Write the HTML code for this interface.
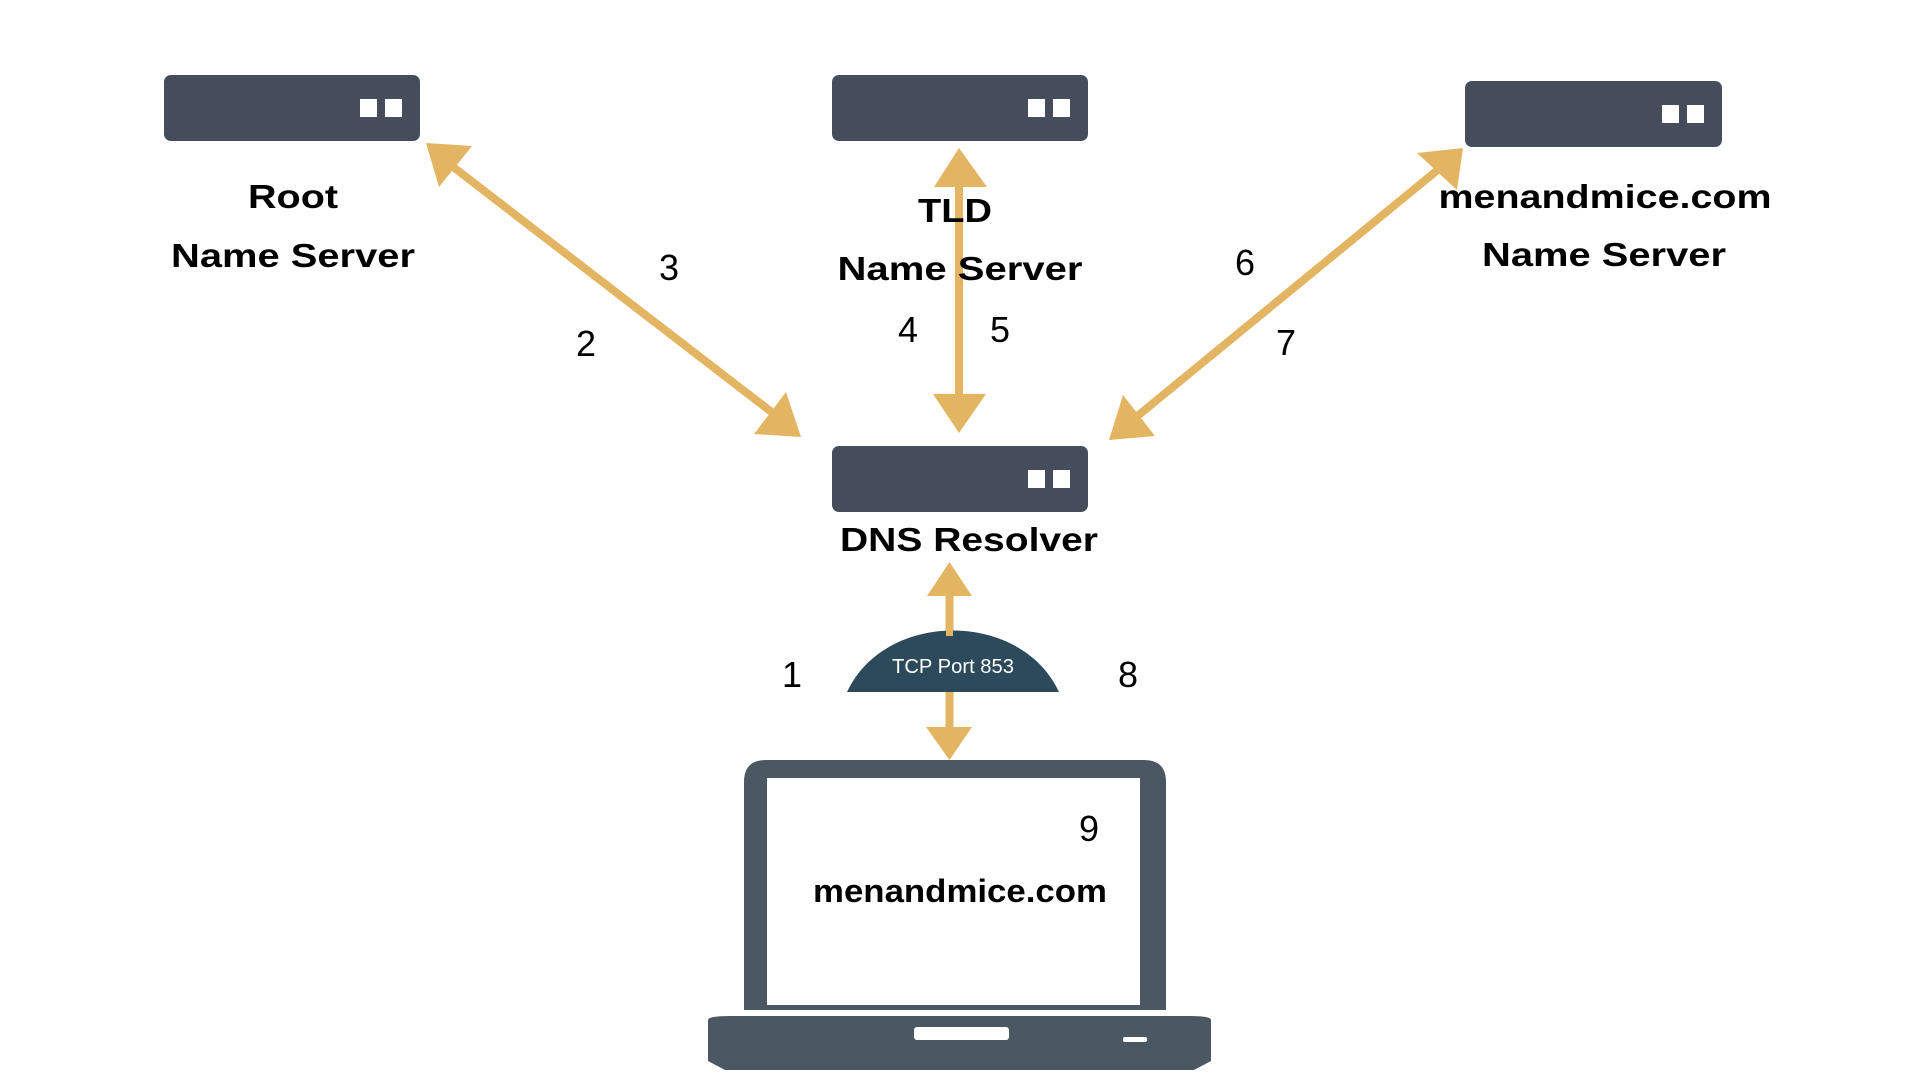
<!DOCTYPE html>
<html><head><meta charset="utf-8"><style>
html,body{margin:0;padding:0;background:#fff;}
svg{display:block;}
text{font-family:"Liberation Sans",sans-serif;}
</style></head><body>
<svg width="1920" height="1080" viewBox="0 0 1920 1080" xmlns="http://www.w3.org/2000/svg">
<rect width="1920" height="1080" fill="#fff"/>
<!-- servers -->
<g fill="#454c5c">
<rect x="164" y="75" width="256" height="66" rx="7"/>
<rect x="832" y="75" width="256" height="66" rx="7"/>
<rect x="1465" y="81" width="257" height="66" rx="7"/>
<rect x="832" y="446" width="256" height="66" rx="7"/>
</g>
<g fill="#fff">
<rect x="360" y="99" width="17" height="18"/><rect x="385" y="99" width="17" height="18"/>
<rect x="1028" y="99" width="17" height="18"/><rect x="1053" y="99" width="17" height="18"/>
<rect x="1662" y="105" width="17" height="18"/><rect x="1687" y="105" width="17" height="18"/>
<rect x="1028" y="470" width="17" height="18"/><rect x="1053" y="470" width="17" height="18"/>
</g>
<!-- arrows -->
<g stroke="#e3b562" stroke-width="8" fill="none">
<line x1="448" y1="163" x2="778" y2="417"/>
<line x1="959" y1="180" x2="959" y2="400"/>
<line x1="1440" y1="168" x2="1135" y2="418"/>
<line x1="949.5" y1="590" x2="949.5" y2="732"/>
</g>
<g fill="#e3b562">
<polygon points="426,143 472,146 439,187"/>
<polygon points="801,437 754,434 786,392"/>
<polygon points="959,148 934,187 987,187"/>
<polygon points="959,433 933,394 986,394"/>
<polygon points="1463,148 1417,153 1457,190"/>
<polygon points="1109,440 1123,395 1155,436"/>
<polygon points="949.5,562 927,596 972,596"/>
<polygon points="949.5,760 926,727 972,727"/>
</g>
<!-- dome -->
<path d="M847 692 C 885 610, 1021 610, 1059 692 Z" fill="#2c4a5c"/>
<rect x="946" y="600" width="7" height="36" fill="#e3b562"/>
<rect x="946" y="692" width="7" height="38" fill="#e3b562"/>
<text x="953" y="673" font-size="20" fill="#fff" text-anchor="middle" textLength="122" lengthAdjust="spacingAndGlyphs">TCP Port 853</text>
<!-- laptop -->
<path d="M744 1010 V782 Q744 760 766 760 H1144 Q1166 760 1166 782 V1010 Z" fill="#4b5864"/>
<rect x="767" y="778" width="373" height="227" fill="#fff"/>
<path d="M708 1020 Q708 1016 730 1016 H1190 Q1211 1016 1211 1020 V1061 L1194 1070 H725 L708 1061 Z" fill="#4b5864"/>
<rect x="914" y="1027" width="95" height="13" rx="3" fill="#fff"/>
<rect x="1123" y="1037" width="24" height="5" rx="2" fill="#fff"/>
<!-- labels -->
<g font-weight="bold" font-size="33" fill="#000" text-anchor="middle">
<text x="293" y="208" textLength="90" lengthAdjust="spacingAndGlyphs">Root</text>
<text x="293" y="267" textLength="244" lengthAdjust="spacingAndGlyphs">Name Server</text>
<text x="955" y="222" textLength="74" lengthAdjust="spacingAndGlyphs">TLD</text>
<text x="960" y="280" textLength="245" lengthAdjust="spacingAndGlyphs">Name Server</text>
<text x="1605" y="208" textLength="333" lengthAdjust="spacingAndGlyphs">menandmice.com</text>
<text x="1604" y="266" textLength="244" lengthAdjust="spacingAndGlyphs">Name Server</text>
<text x="969" y="551" textLength="258" lengthAdjust="spacingAndGlyphs">DNS Resolver</text>
<text x="960" y="902" font-size="32" textLength="294" lengthAdjust="spacingAndGlyphs">menandmice.com</text>
</g>
<g font-size="36" fill="#000" text-anchor="middle">
<text x="586" y="356">2</text>
<text x="669" y="280">3</text>
<text x="908" y="342">4</text>
<text x="1000" y="342">5</text>
<text x="1245" y="275">6</text>
<text x="1286" y="355">7</text>
<text x="792" y="687">1</text>
<text x="1128" y="687">8</text>
<text x="1089" y="841">9</text>
</g>
</svg>
</body></html>
